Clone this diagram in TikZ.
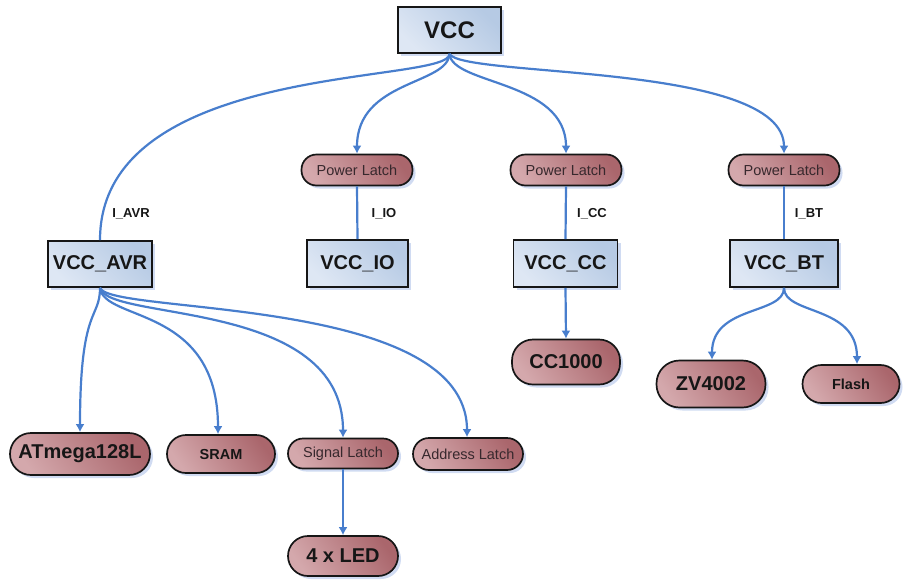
\documentclass[tikz,border=0pt]{standalone}
\usepackage{fontspec}
\setmainfont{Liberation Sans}
\usetikzlibrary{shadows,arrows.meta}
\definecolor{boxlight}{RGB}{222,231,244}
\definecolor{boxdark}{RGB}{182,202,228}
\definecolor{pilllight}{RGB}{212,168,172}
\definecolor{pilldark}{RGB}{170,102,108}
\definecolor{wire}{RGB}{72,126,205}
\definecolor{shadowblue}{RGB}{188,204,236}
\definecolor{inkdark}{RGB}{22,22,22}
\definecolor{inkgray}{RGB}{55,40,45}
\tikzset{
  rail/.style={draw=inkdark, line width=1.7pt, inner sep=0pt,
    left color=boxlight, right color=boxdark, shading angle=135,
    drop shadow={shadow xshift=3pt, shadow yshift=-3pt, fill=shadowblue, opacity=0.7},
    text=inkdark, font=\bfseries\fontsize{20}{24}\selectfont},
  part/.style={draw=inkdark, line width=1.7pt, inner sep=0pt,
    rounded corners=#1, left color=pilllight, right color=pilldark, shading angle=125,
    drop shadow={shadow xshift=3pt, shadow yshift=-3pt, fill=shadowblue, opacity=0.7},
    text=inkdark},
  bigtxt/.style={font=\bfseries\fontsize{20}{24}\selectfont},
  smallbold/.style={font=\bfseries\fontsize{14.5}{17}\selectfont},
  plain/.style={font=\fontsize{14.5}{17}\selectfont, text=inkgray},
  cur/.style={font=\bfseries\fontsize{13}{15}\selectfont, text=inkdark},
  wirel/.style={draw=wire, line width=2.2pt},
  feed/.style={wirel, -{Latex[length=8pt,width=9pt]}}
}
\begin{document}
\begin{tikzpicture}[x=1pt,y=-1pt]
\useasboundingbox (0,0) rectangle (905,587);

% supply rails
\node[rail, minimum width=103pt, minimum height=46pt, font=\bfseries\fontsize{24}{28}\selectfont] (vcc) at (449.5,30) {VCC};
\node[rail, minimum width=104pt, minimum height=46pt] (avr) at (100,264) {VCC\_AVR};
\node[rail, minimum width=101pt, minimum height=47pt] (io) at (357.5,263.5) {VCC\_IO};
\node[rail, minimum width=104pt, minimum height=47pt] (cc) at (565.5,263.5) {VCC\_CC};
\node[rail, minimum width=108pt, minimum height=47pt] (bt) at (784,263.5) {VCC\_BT};

% power latches
\node[part=15pt, plain, minimum width=111pt, minimum height=31pt] (pl1) at (357,170) {Power Latch};
\node[part=15pt, plain, minimum width=111pt, minimum height=31pt] (pl2) at (566,170) {Power Latch};
\node[part=15pt, plain, minimum width=111pt, minimum height=31pt] (pl3) at (784,170) {Power Latch};

% loads
\node[part=21pt, bigtxt, minimum width=108pt, minimum height=45pt] (cc1000) at (566,362) {CC1000};
\node[part=23pt, bigtxt, minimum width=109pt, minimum height=47pt] (zv) at (711,384) {ZV4002};
\node[part=19pt, smallbold, minimum width=97pt, minimum height=38pt] (flash) at (851,384) {Flash};
\node[part=21pt, bigtxt, minimum width=140pt, minimum height=42pt] (atm) at (80,454) {ATmega128L};
\node[part=19pt, smallbold, minimum width=108pt, minimum height=38pt] (sram) at (221,454) {SRAM};
\node[part=15pt, plain, minimum width=110pt, minimum height=30pt] (sig) at (343,453.5) {Signal Latch};
\node[part=16pt, plain, minimum width=110pt, minimum height=32pt] (addr) at (468,454) {Address Latch};
\node[part=20pt, bigtxt, minimum width=110pt, minimum height=40pt] (led) at (343,556) {4 x LED};

% distribution from VCC
\draw[wirel] (vcc.south) .. controls (450,85) and (100,60) .. (avr.north);
\draw[feed] (vcc.south) .. controls (448,85) and (357,80) .. (pl1.north);
\draw[feed] (vcc.south) .. controls (452,85) and (566,80) .. (pl2.north);
\draw[feed] (vcc.south) .. controls (462,78) and (784,62) .. (pl3.north);

% latched rails
\draw[wirel] (pl1.south) -- (io.north);
\draw[wirel] (pl2.south) -- (cc.north);
\draw[wirel] (pl3.south) -- (bt.north);

% current labels
\node[cur] (iavr) at (131,214) {I\_AVR};
\node[cur] (iio) at (384,214) {I\_IO};
\node[cur] (icc) at (592,214) {I\_CC};
\node[cur] (ibt) at (809,214) {I\_BT};

% AVR branch
\draw[feed] (avr.south) .. controls (100,320) and (80,305) .. (atm.north);
\draw[feed] (avr.south) .. controls (104,322) and (218,305) .. (sram.north-|218,0);
\draw[feed] (avr.south) .. controls (108,322) and (343,298) .. (sig.north);
\draw[feed] (avr.south) .. controls (110,315) and (467,295) .. (addr.north-|467,0);
\draw[feed] (sig.south) -- (led.north);

% CC and BT branches
\draw[feed] (cc.south) -- (cc1000.north);
\draw[feed] (bt.south) .. controls (784,315) and (712,305) .. (zv.north-|712,0);
\draw[feed] (bt.south) .. controls (784,315) and (857,305) .. (flash.north-|857,0);
\end{tikzpicture}
\end{document}
